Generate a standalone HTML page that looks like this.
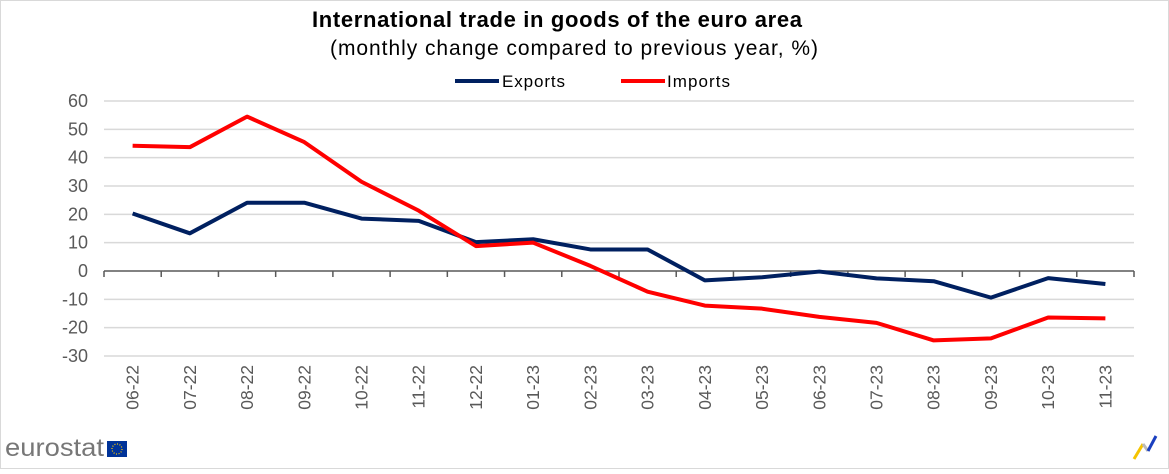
<!DOCTYPE html>
<html><head><meta charset="utf-8"><style>
html,body{margin:0;padding:0;background:#fff}
body{width:1169px;height:469px;overflow:hidden;font-family:"Liberation Sans",Arial,sans-serif}
</style></head><body>
<svg width="1169" height="469" xmlns="http://www.w3.org/2000/svg">
<rect x="0.5" y="0.5" width="1168" height="468" fill="#fff" stroke="#d9d9d9"/>
<text x="557" y="27" text-anchor="middle" font-size="22" font-weight="bold" fill="#000" textLength="490">International trade in goods of the euro area</text>
<text x="574" y="55" text-anchor="middle" font-size="21" fill="#000" textLength="488">(monthly change compared to previous year, %)</text>
<g>
<line x1="455" y1="81" x2="499" y2="81" stroke="#002060" stroke-width="4"/>
<text x="502" y="87" font-size="17" textLength="63">Exports</text>
<line x1="621" y1="81" x2="665" y2="81" stroke="#ff0000" stroke-width="4"/>
<text x="667" y="87" font-size="17" textLength="63">Imports</text>
</g>
<g id="grid"></g><g id="axes"></g><g id="series"></g>
<g>
<text x="5" y="456" font-size="25" fill="#777" textLength="99" lengthAdjust="spacingAndGlyphs">eurostat</text>
<rect x="107" y="441" width="20" height="16" fill="#003399"/>
<circle cx="117" cy="449" r="5" fill="none" stroke="#ffcc00" stroke-width="1.2" stroke-dasharray="1 1.6"/>
</g>
<g>
<line x1="1134" y1="459" x2="1143" y2="444" stroke="#f5c400" stroke-width="3"/>
<line x1="1143" y1="444" x2="1148" y2="451" stroke="#bbb" stroke-width="3"/>
<line x1="1148" y1="451" x2="1156" y2="436" stroke="#1a3fbf" stroke-width="3"/>
</g>
</svg>
<script>
const categories=["06-22","07-22","08-22","09-22","10-22","11-22","12-22","01-23","02-23","03-23","04-23","05-23","06-23","07-23","08-23","09-23","10-23","11-23"];
const exportsVals=[20.3,13.3,24.1,24.1,18.5,17.7,10.2,11.2,7.6,7.6,-3.3,-2.2,-0.2,-2.6,-3.6,-9.4,-2.5,-4.6];
const importsVals=[44.2,43.7,54.5,45.5,31.5,21.3,8.8,10.0,1.8,-7.3,-12.2,-13.3,-16.2,-18.3,-24.5,-23.8,-16.4,-16.7];
const yTicks=[60,50,40,30,20,10,0,-10,-20,-30];
const NS="http://www.w3.org/2000/svg";
const x0=104,x1=1134,yTop=101,yBot=356,vMax=60,vMin=-30;
const band=(x1-x0)/categories.length;
function xs(i){return x0+band*(i+0.5);}
function ys(v){return yTop+(vMax-v)/(vMax-vMin)*(yBot-yTop);}
function mk(t,a,p){const e=document.createElementNS(NS,t);for(const k in a)e.setAttribute(k,a[k]);p.appendChild(e);return e;}
const grid=document.getElementById('grid'),axes=document.getElementById('axes'),ser=document.getElementById('series');
yTicks.forEach(v=>{
 if(v!==0){const l=mk('line',{x1:x0,x2:x1,y1:ys(v),y2:ys(v),stroke:'#d9d9d9','stroke-width':1.5},grid);
 
 }
 const t=mk('text',{x:88,y:ys(v)+6,'text-anchor':'end','font-size':18,fill:'#595959'},axes);
 t.textContent=v;
 
 
});
const ax=mk('line',{x1:x0,x2:x1,y1:ys(0),y2:ys(0),stroke:'#595959','stroke-width':1.5},axes);


for(let i=0;i<=categories.length;i++){
 const tk=mk('line',{x1:x0+band*i,x2:x0+band*i,y1:ys(0),y2:ys(0)+6,stroke:'#595959','stroke-width':1.5},axes);
 
 
}
categories.forEach((c,i)=>{
 const x=xs(i)+6,y=365;
 const t=mk('text',{x:x,y:y,'text-anchor':'end','font-size':17.5,fill:'#595959',transform:`rotate(-90 ${x} ${y})`},axes);
 t.textContent=c;
 
 
});
function line(vals,color,name){
 const p=mk('polyline',{points:vals.map((v,i)=>xs(i)+','+ys(v)).join(' '),fill:'none',stroke:color,'stroke-width':4,'stroke-linejoin':'round'},ser);
 
 
}
line(exportsVals,'#002060','exports-line');
line(importsVals,'#ff0000','imports-line');
</script>
</body></html>
